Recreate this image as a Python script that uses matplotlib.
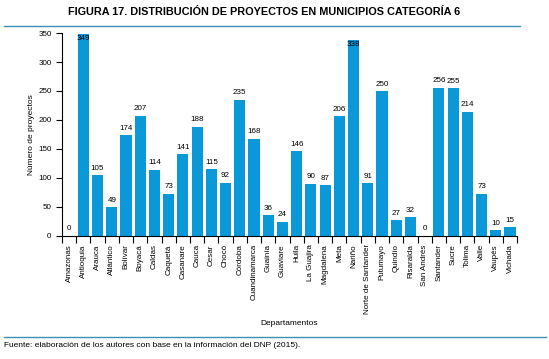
import numpy as np
import matplotlib
matplotlib.use("Agg")
import matplotlib.pyplot as plt
from matplotlib.lines import Line2D
from matplotlib import font_manager

# Fuente estrecha si existe
nombres = {f.name for f in font_manager.fontManager.ttflist}
fuente = "Liberation Sans Narrow" if "Liberation Sans Narrow" in nombres else "Liberation Sans"
plt.rcParams['font.family'] = [fuente, 'DejaVu Sans']

# Datos
departamentos = ["Amazonas", "Antioquia", "Arauca", "Atlántico", "Bolívar", "Boyacá",
                 "Caldas", "Caquetá", "Casanare", "Cauca", "Cesar", "Chocó", "Córdoba",
                 "Cuandinamarca", "Guainía", "Guaviare", "Huila", "La Guajira",
                 "Magdalena", "Meta", "Nariño", "Norte de Santander", "Putumayo",
                 "Quindío", "Risaralda", "San Andrés", "Santander", "Sucre", "Tolima",
                 "Valle", "Vaupés", "Vichada"]
proyectos = [0, 349, 105, 49, 174, 207, 114, 73, 141, 188, 115, 92, 235, 168, 36, 24,
             146, 90, 87, 206, 338, 91, 250, 27, 32, 0, 256, 255, 214, 73, 10, 15]
y_ticks = [0, 50, 100, 150, 200, 250, 300, 350]

fig = plt.figure(figsize=(5.49, 3.59), dpi=100)
ax = fig.add_axes([0.113, 0.343, 0.829, 0.565])

x = np.arange(len(departamentos))
ax.bar(x, proyectos, width=0.78, color="#0a98d8")

# Etiquetas de valores
for xi, v in zip(x, proyectos):
    if v > 330:
        ax.text(xi, v - 2, str(v), ha="center", va="top", fontsize=5.8)
    else:
        ax.text(xi, v + 6, str(v), ha="center", va="bottom", fontsize=5.8)

ax.set_xlim(-0.5, len(departamentos) - 0.5)
ax.set_ylim(0, 350)
ax.set_yticks(y_ticks)
ax.set_xticks(x)
ax.set_xticklabels(departamentos, rotation=90, fontsize=5.8)
ax.set_xticks(np.arange(-0.5, len(departamentos)), minor=True)
ax.tick_params(axis="x", which="major", length=0, pad=6)
ax.tick_params(axis="x", which="minor", length=5, direction="out", width=0.8)
ax.tick_params(axis="y", labelsize=5.8, length=4, width=0.8)
ax.spines["top"].set_visible(False)
ax.spines["right"].set_visible(False)
ax.set_ylabel("Número de proyectos", fontsize=6, labelpad=2)
ax.set_xlabel("Departamentos", fontsize=6, labelpad=4)

fig.text(0.481, 0.967, "FIGURA 17. DISTRIBUCIÓN DE PROYECTOS EN MUNICIPIOS CATEGORÍA 6",
         ha="center", va="center", fontsize=7.8, fontweight="bold")
fig.add_artist(Line2D([0.007, 0.948], [0.927, 0.927], color="#3a8fb5", lw=1))
fig.add_artist(Line2D([0.007, 0.995], [0.061, 0.061], color="#3a8fb5", lw=1))
fig.text(0.007, 0.038, "Fuente: elaboración de los autores con base en la información del DNP (2015).",
         ha="left", va="center", fontsize=6)

fig.savefig("out.png", dpi=100)
